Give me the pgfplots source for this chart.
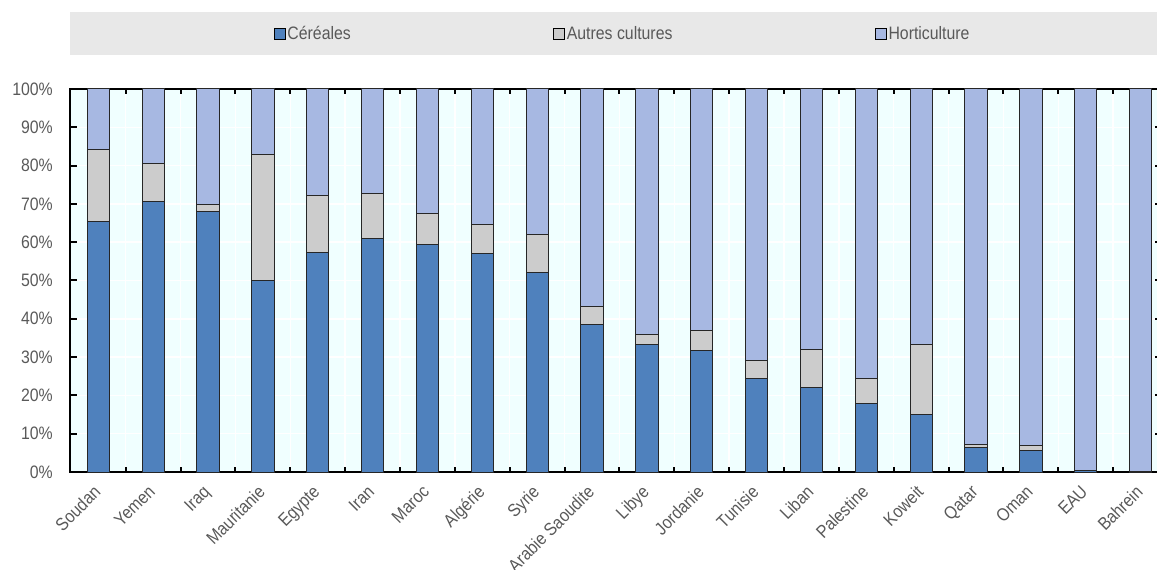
\documentclass[border=0pt]{standalone}
\usepackage{fontspec}
\setmainfont{Liberation Sans}[FakeStretch=0.88]
\usepackage{pgfplots}
\usepackage{pgfplotstable}
\pgfplotsset{compat=1.18}
\definecolor{cer}{HTML}{4F81BD}
\definecolor{aut}{HTML}{CCCCCC}
\definecolor{hor}{HTML}{A7B8E2}
\definecolor{bgc}{HTML}{F0FFFF}
\definecolor{txt}{HTML}{595959}
\definecolor{leg}{HTML}{E8E8E8}
\pgfplotstableread{
x cer aut hor
0 65.5 18.8 15.7
1 70.6 10.0 19.4
2 67.9 2.0 30.1
3 50.0 32.8 17.2
4 57.4 14.8 27.8
5 60.9 11.7 27.4
6 59.5 8.0 32.5
7 57.1 7.6 35.3
8 52.0 10.1 37.9
9 38.4 4.9 56.7
10 33.2 2.7 64.1
11 31.8 5.1 63.1
12 24.4 4.8 70.8
13 22.1 10.0 67.9
14 17.9 6.6 75.5
15 15.0 18.2 66.8
16 6.3 0.8 92.9
17 5.7 1.2 93.1
18 0.3 0.0 99.7
19 0.2 0.0 99.8
}\datatable
\begin{document}
\begin{tikzpicture}
\useasboundingbox (-70pt,-98pt) rectangle (1087pt,472pt);
\fill[leg] (0pt,417pt) rectangle (1092pt,460pt);
\begin{axis}[
  at={(0pt,0pt)}, anchor=south west,
  width=1092pt, height=383pt, scale only axis,
  xmin=-0.516, xmax=19.39, ymin=0, ymax=100,
  ybar stacked, bar width=22.3pt,
  axis background/.style={fill=bgc},
  axis line style={black, line width=2pt},
  ytick={0,10,...,100},
  /pgf/number format/assume math mode=true,
  yticklabel={\pgfmathprintnumber{\tick}\%},
  xtick={0,...,19},
  xticklabels={Soudan,Yemen,Iraq,Mauritanie,Egypte,Iran,Maroc,Algérie,Syrie,Arabie Saoudite,Libye,Jordanie,Tunisie,Liban,Palestine,Koweit,Qatar,Oman,EAU,Bahrein},
  minor xtick={0.5,1.5,...,18.5},
  tick align=inside,
  major tick length=7pt, minor tick length=5pt,
  major x tick style={draw=none},
  ytick style={black, line width=2pt},
  minor x tick style={black, line width=2pt},
  ymajorgrids, xminorgrids,
  major grid style={white, line width=1.5pt},
  minor grid style={white, line width=1.5pt},
  ticklabel style={font=\fontsize{18}{21}\selectfont, text=txt},
  yticklabel style={inner sep=0pt, xshift=-17pt},
  xticklabel style={rotate=45, anchor=north east, inner sep=0pt, xshift=-12.6pt, yshift=-4.2pt},
  legend columns=3,
  legend style={at={(axis description cs:0.1868,1.1449)}, anchor=west, draw=none, fill=none,
    inner sep=0pt, outer sep=0pt,
    font=\fontsize{18}{21}\selectfont, text=txt,
    nodes={inner sep=1.5pt},
    /tikz/every even column/.append style={column sep=201pt}},
  legend image code/.code={\draw[#1, draw=black, line width=1pt] (0pt,-5.5pt) rectangle (11pt,5.5pt);},
]
\addplot[fill=cer, draw=black!85, line width=1pt] table[x=x,y=cer]{\datatable};
\addplot[fill=aut, draw=black!85, line width=1pt] table[x=x,y=aut]{\datatable};
\addplot[fill=hor, draw=black!85, line width=1pt] table[x=x,y=hor]{\datatable};
\legend{Céréales,Autres cultures,Horticulture}
\end{axis}
\end{tikzpicture}
\end{document}
